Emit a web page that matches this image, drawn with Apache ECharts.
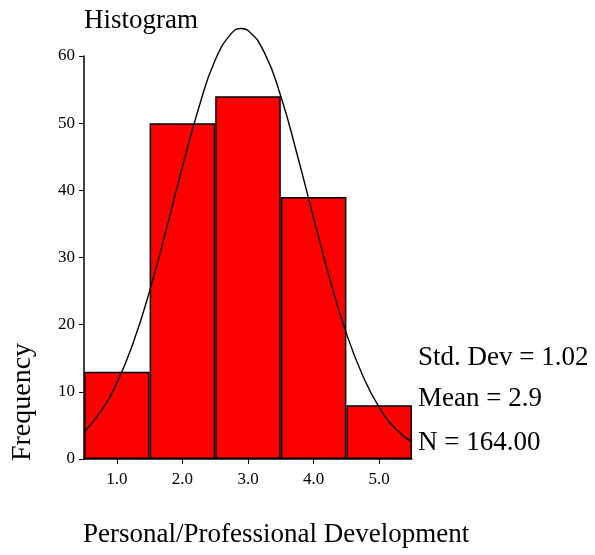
<!DOCTYPE html>
<html><head><meta charset="utf-8">
<script src="https://cdn.jsdelivr.net/npm/echarts@6/dist/echarts.min.js"></script>
<style>html,body{margin:0;padding:0;background:#fff}#c{width:595px;height:555px}</style>
</head><body><div id="c"></div>
<script>
const categories = ['1.0','2.0','3.0','4.0','5.0'];
const frequencies = [13, 50, 54, 39, 8];
const curveX = [0.5,0.75,1.0,1.25,1.5,1.75,2.0,2.25,2.5,2.75,2.9,3.0,3.25,3.5,3.75,4.0,4.25,4.5,4.75,5.0,5.25,5.5];
const curveY = [4.0,7.0,11.3,17.3,25.0,34.0,43.5,52.3,59.4,63.4,64.1,63.8,60.5,54.0,45.3,35.9,26.7,18.7,12.4,7.7,4.5,2.5];
const yTicks = [0,10,20,30,40,50,60];
const statsLines = ['Std. Dev = 1.02','Mean = 2.9','N = 164.00'];

const font = '"Liberation Serif", "Times New Roman", serif';
const big = '27px ' + font;
const chart = echarts.init(document.getElementById('c'), null, {renderer:'canvas'});
chart.setOption({
  animation:false,
  backgroundColor:'#fff',
  grid:{left:84, right:183, top:56, bottom:96},
  graphic:[
    {type:'text', x:84, y:21, style:{text:'Histogram', font:big, fill:'#000', verticalAlign:'middle', align:'left'}},
    {type:'text', x:23, y:402, rotation:Math.PI/2, style:{text:'Frequency', font:'28px ' + font, fill:'#000', align:'center', verticalAlign:'middle'}},
    {type:'text', x:83, y:535, style:{text:'Personal/Professional Development', font:big, fill:'#000', verticalAlign:'middle', align:'left'}},
    {type:'text', x:418, y:358, style:{text:statsLines[0], font:big, fill:'#000', verticalAlign:'middle'}},
    {type:'text', x:418, y:399, style:{text:statsLines[1], font:big, fill:'#000', verticalAlign:'middle'}},
    {type:'text', x:418, y:443, style:{text:statsLines[2], font:big, fill:'#000', verticalAlign:'middle'}}
  ],
  xAxis:[
    {type:'category', data:categories, boundaryGap:true,
     axisLine:{show:true, lineStyle:{color:'#000', width:1.5}},
     axisTick:{show:true, alignWithLabel:true, length:5, lineStyle:{color:'#000'}},
     axisLabel:{fontFamily:font, fontSize:17, color:'#000', margin:12}},
    {type:'value', min:0.5, max:5.5, show:false}
  ],
  yAxis:{type:'value', min:0, max:60, interval:10,
    splitLine:{show:false},
    axisLine:{show:true, lineStyle:{color:'#000', width:1.5}},
    axisTick:{show:true, length:5, lineStyle:{color:'#000'}},
    axisLabel:{fontFamily:font, fontSize:17, color:'#000', margin:9,
      formatter:v=>yTicks.includes(v)?String(v):''}},
  series:[
    {type:'bar', data:frequencies, barCategoryGap:'0%', xAxisIndex:0,
     itemStyle:{color:'#ff0000', borderColor:'#000', borderWidth:1.5}},
    {type:'line', xAxisIndex:1, data:curveX.map((x,i)=>[x,curveY[i]]), smooth:true, symbol:'none',
     clip:false, lineStyle:{color:'#000', width:1.4}, z:5}
  ]
});
</script></body></html>
